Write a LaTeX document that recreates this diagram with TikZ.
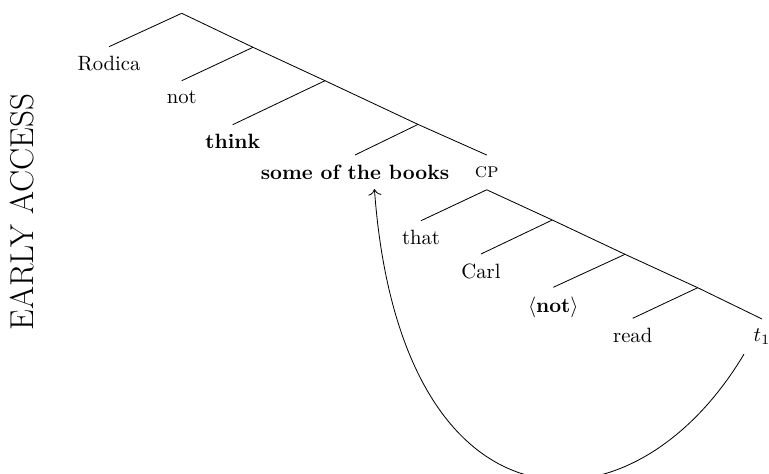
\documentclass[tikz,border=0pt]{standalone}
\usetikzlibrary{arrows.meta}

\begin{document}
\begin{tikzpicture}[x=0.017cm, y=-0.017cm,
		leaf/.style={anchor=north, inner sep=4.5pt},
		branch/.style={black, thin}]
	\useasboundingbox (0,0) rectangle (769,473);
	\node[rotate=90, font=\fontsize{16}{19}\selectfont] (stamp) at (22,212) {EARLY ACCESS};
	% matrix clause
	\coordinate (n0) at (181.7,13.3);
	\coordinate (n1) at (253,47.3);
	\coordinate (n2) at (325,80.7);
	\coordinate (n3) at (418,124.4);
	\node[leaf] (rodica) at (109,46.7) {Rodica};
	\node[leaf] (not) at (181.7,80.7) {not};
	\node[leaf] (think) at (232.7,124.7) {\textbf{think}};
	\node[leaf] (books) at (355,155) {\textbf{some of the books}};
	\node[leaf, inner sep=5.5pt] (cp) at (486.7,155) {\textsc{cp}};
	% embedded clause
	\coordinate (n4) at (cp.south);
	\coordinate (n5) at (552.3,220);
	\coordinate (n6) at (625,254.3);
	\coordinate (n7) at (697.7,287.7);
	\node[leaf] (that) at (421,220.7) {that};
	\node[leaf] (carl) at (481,254) {Carl};
	\node[leaf] (neg) at (553.3,287.3) {$\langle$\textbf{not}$\rangle$};
	\node[leaf] (read) at (632.7,318.3) {read};
	\node[leaf] (trace) at (762,319) {$t_1$};
	\begin{scope}[branch]
		\draw (n0) -- (n1) -- (n2) -- (n3) -- (cp.north);
		\draw (n0) -- (rodica.north);
		\draw (n1) -- (not.north);
		\draw (n2) -- (think.north);
		\draw (n3) -- (books.north);
		\draw (n4) -- (n5) -- (n6) -- (n7) -- (trace.north);
		\draw (n4) -- (that.north);
		\draw (n5) -- (carl.north);
		\draw (n6) -- (neg.north);
		\draw (n7) -- (read.north);
	\end{scope}
	% movement
	\draw[-{To[length=3pt]}] (trace.south west) .. controls (630,545) and (400,540) .. ([xshift=0.33cm]books.south);
\end{tikzpicture}
\end{document}
